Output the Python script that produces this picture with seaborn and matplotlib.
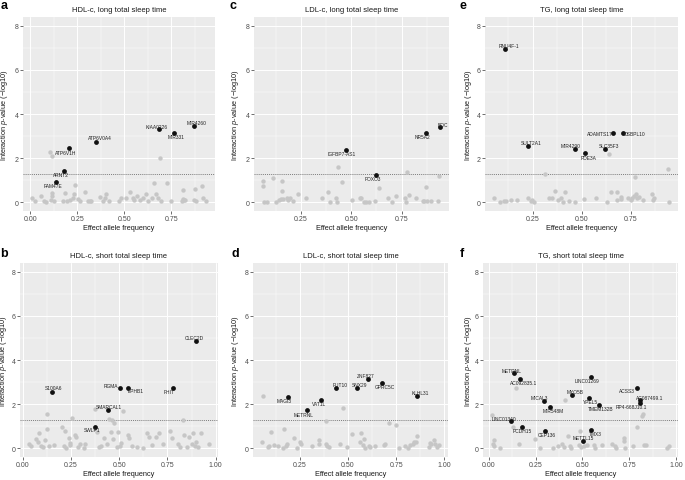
import matplotlib
matplotlib.use("Agg")
import matplotlib.pyplot as plt
from matplotlib.ticker import FixedLocator
import pandas as pd
import seaborn as sns

# ---- data: effect allele frequency (x) and interaction -log10 p (y) ----
# panel a: HDL-c, long total sleep time
a_grey_x = [0.008, 0.024, 0.059, 0.082, 0.075, 0.108, 0.118, 0.115, 0.127, 0.173, 0.187, 0.194,
            0.213, 0.225, 0.234, 0.239, 0.253, 0.265, 0.290, 0.306, 0.316, 0.323, 0.372, 0.388,
            0.397, 0.402, 0.418, 0.470, 0.484, 0.507, 0.533, 0.547, 0.550, 0.570, 0.586, 0.598,
            0.615, 0.624, 0.650, 0.656, 0.670, 0.677, 0.694, 0.728, 0.750, 0.805, 0.810, 0.813,
            0.817, 0.822, 0.869, 0.874, 0.883, 0.913, 0.920, 0.936, 0.104, 0.115, 0.690]
a_grey_y = [0.20, 0.05, 0.28, 0.02, 0.05, 0.12, 0.40, 0.28, 0.06, 0.04, 0.42, 0.06,
            0.12, 0.18, 0.35, 0.80, 0.16, 0.05, 0.47, 0.06, 0.07, 0.05, 0.25, 0.07,
            0.20, 0.38, 0.07, 0.07, 0.18, 0.17, 0.47, 0.20, 0.12, 0.30, 0.08, 0.18,
            0.38, 0.05, 0.20, 0.87, 0.39, 0.18, 0.06, 0.87, 0.04, 0.06, 0.56, 0.15,
            0.10, 0.08, 0.12, 0.58, 0.07, 0.72, 0.18, 0.05, 2.29, 2.11, 2.00]
a_hit_x = [0.206, 0.180, 0.138, 0.350, 0.687, 0.762, 0.869]
a_hit_y = [2.44, 1.42, 0.93, 2.73, 3.30, 3.15, 3.45]
a_genes = ["ATP6V1H", "ARNT2", "FAM47E", "ATP6V0A4", "KIAA0226", "MIR331", "MIR4260"]

# panel b: HDL-c, short total sleep time
b_grey_x = [0.033, 0.045, 0.067, 0.078, 0.087, 0.095, 0.103, 0.115, 0.128, 0.125, 0.135, 0.160,
            0.205, 0.212, 0.218, 0.225, 0.238, 0.243, 0.245, 0.255, 0.270, 0.275, 0.285, 0.298,
            0.318, 0.325, 0.375, 0.385, 0.398, 0.405, 0.420, 0.438, 0.455, 0.448, 0.462, 0.475,
            0.470, 0.488, 0.495, 0.505, 0.510, 0.522, 0.545, 0.550, 0.565, 0.590, 0.625, 0.645,
            0.652, 0.672, 0.690, 0.705, 0.725, 0.765, 0.775, 0.805, 0.815, 0.830, 0.835, 0.850,
            0.862, 0.875, 0.880, 0.895, 0.900, 0.908, 0.925, 0.965]
b_grey_y = [0.18, 0.12, 0.42, 0.30, 0.71, 0.10, 0.05, 0.38, 0.85, 1.56, 0.12, 0.15,
            0.97, 0.08, 0.78, 0.03, 0.45, 0.15, 0.25, 1.35, 0.62, 0.50, 0.06, 0.18,
            0.02, 0.18, 1.80, 0.72, 0.05, 0.12, 0.45, 0.18, 0.72, 1.33, 1.28, 1.12,
            0.42, 0.05, 0.72, 0.12, 0.22, 1.70, 0.62, 0.48, 0.08, 0.05, 0.02, 0.70,
            0.50, 0.15, 0.50, 0.70, 0.20, 0.78, 0.48, 0.20, 0.05, 1.28, 0.58, 0.05,
            0.50, 0.18, 0.70, 0.12, 0.30, 0.05, 0.70, 0.20]
b_hit_x = [0.897, 0.150, 0.503, 0.545, 0.780, 0.440, 0.375]
b_hit_y = [4.84, 2.56, 2.74, 2.74, 2.71, 1.72, 0.95]
b_genes = ["CLEC2D", "S100A6", "RGMA", "EPHB1", "FHIT", "SMARCAL1", "SWLP1"]

# panel c: LDL-c, long total sleep time
c_grey_x = [0.060, 0.063, 0.068, 0.083, 0.112, 0.124, 0.139, 0.149, 0.157, 0.157, 0.162, 0.178,
            0.186, 0.195, 0.208, 0.233, 0.274, 0.352, 0.385, 0.393, 0.422, 0.429, 0.434, 0.454,
            0.502, 0.541, 0.548, 0.561, 0.574, 0.587, 0.620, 0.637, 0.683, 0.701, 0.723, 0.766,
            0.772, 0.777, 0.789, 0.822, 0.855, 0.863, 0.871, 0.875, 0.896, 0.931, 0.937]
c_grey_y = [0.98, 0.74, 0.02, 0.03, 1.10, 0.02, 0.12, 0.15, 0.98, 0.52, 0.15, 0.17,
            0.08, 0.18, 0.05, 0.38, 0.20, 0.20, 0.45, 0.03, 0.18, 0.02, 1.58, 0.93,
            0.08, 0.18, 0.17, 0.03, 0.03, 0.02, 0.05, 0.63, 0.20, 0.03, 0.27, 0.18,
            0.03, 1.35, 0.33, 0.18, 0.05, 0.06, 0.67, 0.04, 0.06, 0.07, 1.17]
c_hit_x = [0.942, 0.870, 0.472, 0.622]
c_hit_y = [3.39, 3.15, 2.36, 1.25]
c_genes = ["BOC", "NR5A2", "IGFBP7-AS1", "FOXO3"]

# panel d: LDL-c, short total sleep time
d_grey_x = [0.057, 0.476, 0.384, 0.712, 0.750, 0.102, 0.166, 0.052, 0.083, 0.091, 0.114, 0.134,
            0.160, 0.178, 0.183, 0.217, 0.234, 0.250, 0.255, 0.312, 0.347, 0.347, 0.384, 0.390,
            0.402, 0.457, 0.497, 0.519, 0.560, 0.569, 0.583, 0.579, 0.588, 0.609, 0.617, 0.643,
            0.688, 0.690, 0.764, 0.798, 0.812, 0.824, 0.838, 0.845, 0.859, 0.853, 0.919, 0.933,
            0.928, 0.945, 0.953, 0.962, 0.974]
d_grey_y = [2.37, 1.83, 1.24, 1.16, 1.07, 0.74, 0.89, 0.29, 0.06, 0.08, 0.14, 0.11,
            0.03, 0.11, 0.18, 0.48, 0.03, 0.26, 0.21, 0.09, 0.35, 0.18, 0.18, 0.11,
            0.06, 0.18, 0.05, 0.64, 0.26, 0.71, 0.40, 0.14, 0.03, 0.11, 0.06, 0.08,
            0.14, 0.18, 0.03, 0.11, 0.03, 0.14, 0.18, 0.26, 0.54, 0.30, 0.05, 0.18,
            0.25, 0.37, 0.18, 0.06, 0.14]
d_hit_x = [0.188, 0.286, 0.360, 0.440, 0.545, 0.605, 0.678, 0.860]
d_hit_y = [2.33, 1.72, 2.19, 2.71, 2.75, 3.13, 2.95, 2.36]
d_genes = ["MAGI3", "METRNL", "VAT1L", "FUT10", "SNX29", "ZNF827", "GPRC5C", "KLHL31"]

# panel e: TG, long total sleep time
e_grey_x = [0.052, 0.086, 0.103, 0.115, 0.138, 0.172, 0.225, 0.240, 0.247, 0.255, 0.311, 0.334,
            0.348, 0.365, 0.377, 0.395, 0.402, 0.416, 0.437, 0.466, 0.512, 0.574, 0.630, 0.639,
            0.649, 0.677, 0.681, 0.698, 0.699, 0.733, 0.748, 0.757, 0.765, 0.770, 0.774, 0.782,
            0.792, 0.809, 0.858, 0.860, 0.865, 0.940, 0.945]
e_grey_y = [0.18, 0.03, 0.05, 0.07, 0.09, 0.10, 0.18, 0.05, 0.12, 0.03, 1.30, 0.18,
            0.18, 0.52, 0.08, 0.18, 0.03, 0.47, 0.05, 0.03, 0.16, 0.20, 0.03, 2.20,
            0.47, 0.08, 0.47, 0.14, 0.25, 0.17, 0.10, 0.18, 0.26, 1.14, 0.35, 0.20,
            0.25, 0.12, 0.35, 0.08, 0.18, 1.52, 0.03]
e_hit_x = [0.111, 0.224, 0.463, 0.517, 0.620, 0.659, 0.709]
e_hit_y = [6.94, 2.56, 2.42, 2.24, 2.42, 3.12, 3.12]
e_genes = ["RNU4F-1", "SULT2A1", "MIR4290", "PDE3A", "SLC35F3", "ADAMTS17", "OSBPL10"]

# panel f: TG, short total sleep time
f_grey_x = [0.017, 0.147, 0.407, 0.790, 0.819, 0.822, 0.129, 0.486, 0.422, 0.724, 0.721, 0.026,
            0.024, 0.029, 0.060, 0.164, 0.245, 0.276, 0.345, 0.371, 0.393, 0.400, 0.431, 0.440,
            0.483, 0.491, 0.509, 0.526, 0.560, 0.569, 0.603, 0.655, 0.672, 0.681, 0.726, 0.772,
            0.828, 0.836, 0.948, 0.962]
f_grey_y = [1.51, 2.72, 2.18, 0.97, 1.44, 1.53, 0.97, 0.79, 0.56, 0.44, 0.33, 0.36,
            0.18, 0.11, 0.03, 0.18, 0.41, 0.03, 0.03, 0.11, 0.18, 0.06, 0.11, 0.02,
            0.15, 0.05, 0.09, 0.15, 0.15, 0.02, 0.15, 0.18, 0.11, 0.02, 0.03, 0.11,
            0.15, 0.16, 0.02, 0.08]
f_hit_x = [0.133, 0.169, 0.543, 0.443, 0.297, 0.326, 0.534, 0.586, 0.791, 0.805, 0.805,
           0.117, 0.178, 0.302, 0.547, 0.505]
f_hit_y = [3.39, 3.15, 3.21, 2.43, 2.12, 1.85, 2.27, 1.98, 2.75, 2.18, 2.04,
           1.22, 0.97, 0.76, 0.82, 0.33]
f_genes = ["METRNL", "AC092835.1", "LINC01269", "MYO5B", "MICAL3", "MIR548M", "YPEL5",
           "TMEM132B", "ACSS3", "AC087499.1", "RP4-668J10.1", "LINC01340", "PCDH15",
           "CEP136", "TMX3", "METTL15"]

titles = ["HDL-c, long total sleep time", "HDL-c, short total sleep time",
          "LDL-c, long total sleep time", "LDL-c, short total sleep time",
          "TG, long total sleep time", "TG, short total sleep time"]
letters = ["a", "b", "c", "d", "e", "f"]
threshold = 1.301  # -log10(0.05)

# ---- layout (pixel boxes: x0, x1, y0, y1 from top) ----
boxes = [(23, 215, 18, 212), (20, 218, 264, 458),
         (254, 449, 18, 212), (253, 448, 264, 458),
         (485, 678, 18, 212), (483, 678, 264, 458)]
letter_pos = [(1, 0), (0, 248), (230, 0), (232, 248), (459, 0), (460, 248)]
ylabel_x = [5, 4, 235, 235, 468, 468]

# label offsets (reference pixels * 3), one per labelled gene
offsets = [
    [(-11, -11), (-10, -12), (-9, -11), (12, 12), (-8, 10), (8, -10), (10, 10)],
    [(-6, 12), (7, 13), (-26, 8), (24, -8), (-14, -9), (3, 10), (-10, -8)],
    [(8, 10), (-9, -10), (-11, -10), (-9, -11)],
    [(-11, -12), (-9, -12), (-7, -10), (11, 11), (9, 10), (-8, 12), (9, -10), (9, 10)],
    [(11, 11), (12, 9), (-11, 11), (10, -14), (10, 11), (-41, 0), (34, 0)],
    [(-7, 10), (10, -10), (-10, -10), (10, 10), (-16, 13), (11, -10), (5, -10), (5, -12),
     (-31, -9), (31, 8), (-25, -11), (-21, 9), (0, -10), (3, -8), (13, -10), (0, 10)],
]

panels = [
    (a_grey_x, a_grey_y, a_hit_x, a_hit_y, a_genes),
    (b_grey_x, b_grey_y, b_hit_x, b_hit_y, b_genes),
    (c_grey_x, c_grey_y, c_hit_x, c_hit_y, c_genes),
    (d_grey_x, d_grey_y, d_hit_x, d_hit_y, d_genes),
    (e_grey_x, e_grey_y, e_hit_x, e_hit_y, e_genes),
    (f_grey_x, f_grey_y, f_hit_x, f_hit_y, f_genes),
]

sns.set_theme(style="darkgrid", rc={"axes.facecolor": "#EBEBEB", "grid.color": "white"})
plt.rcParams["font.family"] = ["Liberation Sans", "DejaVu Sans"]
plt.rcParams["mathtext.fontset"] = "custom"
plt.rcParams["mathtext.it"] = "Liberation Sans:italic"
plt.rcParams["mathtext.rm"] = "Liberation Sans"

W, H = 685, 481
fig = plt.figure(figsize=(6.85, 4.81), dpi=100)
fig.patch.set_facecolor("white")

for i, (gx, gy, hx, hy, genes) in enumerate(panels):
    x0, x1, y0, y1 = boxes[i]
    ax = fig.add_axes([x0 / W, 1 - y1 / H, (x1 - x0) / W, (y1 - y0) / H])
    grey = pd.DataFrame({"eaf": gx, "p": gy})
    hits = pd.DataFrame({"eaf": hx, "p": hy, "gene": genes})
    sns.scatterplot(data=grey, x="eaf", y="p", color="#C6C6C6", s=10, linewidth=0, ax=ax, zorder=3)
    sns.scatterplot(data=hits, x="eaf", y="p", color="#111111", s=12, linewidth=0, ax=ax, zorder=4)
    ax.axhline(threshold, color="#555555", lw=0.5, ls=(0, (1.5, 1.5)), zorder=2)

    for (gname, gxv, gyv), (dx, dy) in zip(hits[["gene", "eaf", "p"]].itertuples(index=False), offsets[i]):
        ax.annotate(gname, (gxv, gyv), xytext=(dx * 0.24, dy * 0.24), textcoords="offset points",
                    ha="center", va="center", fontsize=3.5, color="#222222", zorder=5)

    allx = list(gx) + list(hx)
    lo, hi = min(allx), max(allx)
    pad = 0.05 * (hi - lo)
    ax.set_xlim(lo - pad, hi + pad)
    ax.set_ylim(-0.4, 8.4)
    ax.xaxis.set_major_locator(FixedLocator([0, 0.25, 0.5, 0.75, 1.0]))
    ax.xaxis.set_minor_locator(FixedLocator([0.125, 0.375, 0.625, 0.875]))
    ax.yaxis.set_major_locator(FixedLocator([0, 2, 4, 6, 8]))
    ax.yaxis.set_minor_locator(FixedLocator([1, 3, 5, 7]))
    ax.set_xticklabels([f"{v:.2f}" for v in [0, 0.25, 0.5, 0.75, 1.0]])
    ax.grid(which="major", color="white", lw=0.7)
    ax.grid(which="minor", color="white", lw=0.35)
    ax.set_axisbelow(True)
    for sp in ax.spines.values():
        sp.set_visible(False)
    ax.tick_params(which="major", length=2, width=0.5, color="#333333", labelsize=5.0,
                   labelcolor="#4D4D4D", pad=1.2, bottom=True, left=True)
    ax.tick_params(which="minor", length=0)

    ax.set_xlabel("")
    ax.set_ylabel("")
    cx = (x0 + x1) / 2
    fig.text(cx / W, 1 - (y0 - 8) / H, titles[i], ha="center", va="center", fontsize=5.5, color="#1a1a1a")
    fig.text(cx / W, 1 - (y1 + 17) / H, "Effect allele frequency", ha="center", va="center",
             fontsize=5.3, color="#1a1a1a")
    fig.text(ylabel_x[i] / W, 1 - ((y0 + y1) / 2) / H, "Interaction $p$-value (\u2212log10)",
             rotation=90, ha="center", va="center", fontsize=5.3, color="#1a1a1a")
    lx, ly = letter_pos[i]
    fig.text(lx / W, 1 - ly / H, letters[i], ha="left", va="top", fontsize=9,
             fontweight="bold", color="black")

fig.savefig("out.png", dpi=100)
